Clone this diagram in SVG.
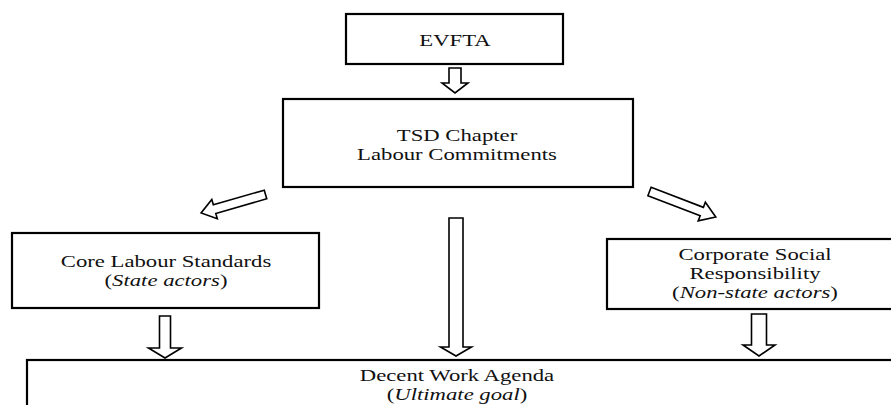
<svg xmlns="http://www.w3.org/2000/svg" width="891" height="405" viewBox="0 0 891 405">
  <style>
    .box { fill: #ffffff; stroke: #000000; stroke-width: 2.2; }
    .arrow { fill: #ffffff; stroke: #000000; stroke-width: 1.6; stroke-linejoin: miter; }
    .t { font-family: 'Liberation Serif', 'DejaVu Serif', 'Times New Roman', Times, serif; font-size: 16px; fill: #111111; text-anchor: middle; }
    .i { font-style: italic; }
  </style>
  <rect width="891" height="405" fill="#ffffff"/>

  <!-- hollow block arrows (local shape points down along +y, then placed) -->
  <g id="connectors">
    <polygon class="arrow" transform="translate(455,68)" points="-6,0 -6,15 -13,15 0,25 13,15 6,15 6,0"/>
    <polygon class="arrow" transform="translate(265.5,194.5) rotate(74)" points="-4.5,0 -4.5,53 -10,53 0,67 10,53 4.5,53 4.5,0"/>
    <polygon class="arrow" transform="translate(649.5,191.5) rotate(-69)" points="-4.5,0 -4.5,56 -10,56 0,71 10,56 4.5,56 4.5,0"/>
    <polygon class="arrow" transform="translate(165,316)" points="-5.5,0 -5.5,32 -16.5,32 0,42 16.5,32 5.5,32 5.5,0"/>
    <polygon class="arrow" transform="translate(456,218)" points="-7,0 -7,129 -15.5,129 0,138 15.5,129 7,129 7,0"/>
    <polygon class="arrow" transform="translate(759,314)" points="-7.5,0 -7.5,31 -16,31 0,42 16,31 7.5,31 7.5,0"/>
  </g>

  <g id="evfta">
    <rect class="box" x="346" y="14" width="217" height="50"/>
    <text class="t" font-family="Liberation Serif, serif" transform="translate(455,46) scale(1.42,1)">EVFTA</text>
  </g>

  <g id="tsd-chapter">
    <rect class="box" x="283" y="99" width="350" height="88"/>
    <text class="t" font-family="Liberation Serif, serif" transform="translate(457,141) scale(1.42,1)">TSD Chapter</text>
    <text class="t" font-family="Liberation Serif, serif" transform="translate(457,160) scale(1.42,1)">Labour Commitments</text>
  </g>

  <g id="core-labour-standards">
    <rect class="box" x="12" y="233" width="307" height="75"/>
    <text class="t" font-family="Liberation Serif, serif" transform="translate(166,267) scale(1.42,1)">Core Labour Standards</text>
    <text class="t" font-family="Liberation Serif, serif" transform="translate(166,286) scale(1.42,1)">(<tspan class="i">State actors</tspan>)</text>
  </g>

  <g id="csr">
    <rect class="box" x="607" y="239" width="300" height="70"/>
    <text class="t" font-family="Liberation Serif, serif" transform="translate(755,260) scale(1.42,1)">Corporate Social</text>
    <text class="t" font-family="Liberation Serif, serif" transform="translate(755,279) scale(1.42,1)">Responsibility</text>
    <text class="t" font-family="Liberation Serif, serif" transform="translate(755,298) scale(1.42,1)">(<tspan class="i">Non-state actors</tspan>)</text>
  </g>

  <g id="decent-work-agenda">
    <rect class="box" x="27" y="360" width="880" height="60"/>
    <text class="t" font-family="Liberation Serif, serif" transform="translate(457,381) scale(1.42,1)">Decent Work Agenda</text>
    <text class="t" font-family="Liberation Serif, serif" transform="translate(457,400) scale(1.42,1)">(<tspan class="i">Ultimate goal</tspan>)</text>
  </g>
</svg>
